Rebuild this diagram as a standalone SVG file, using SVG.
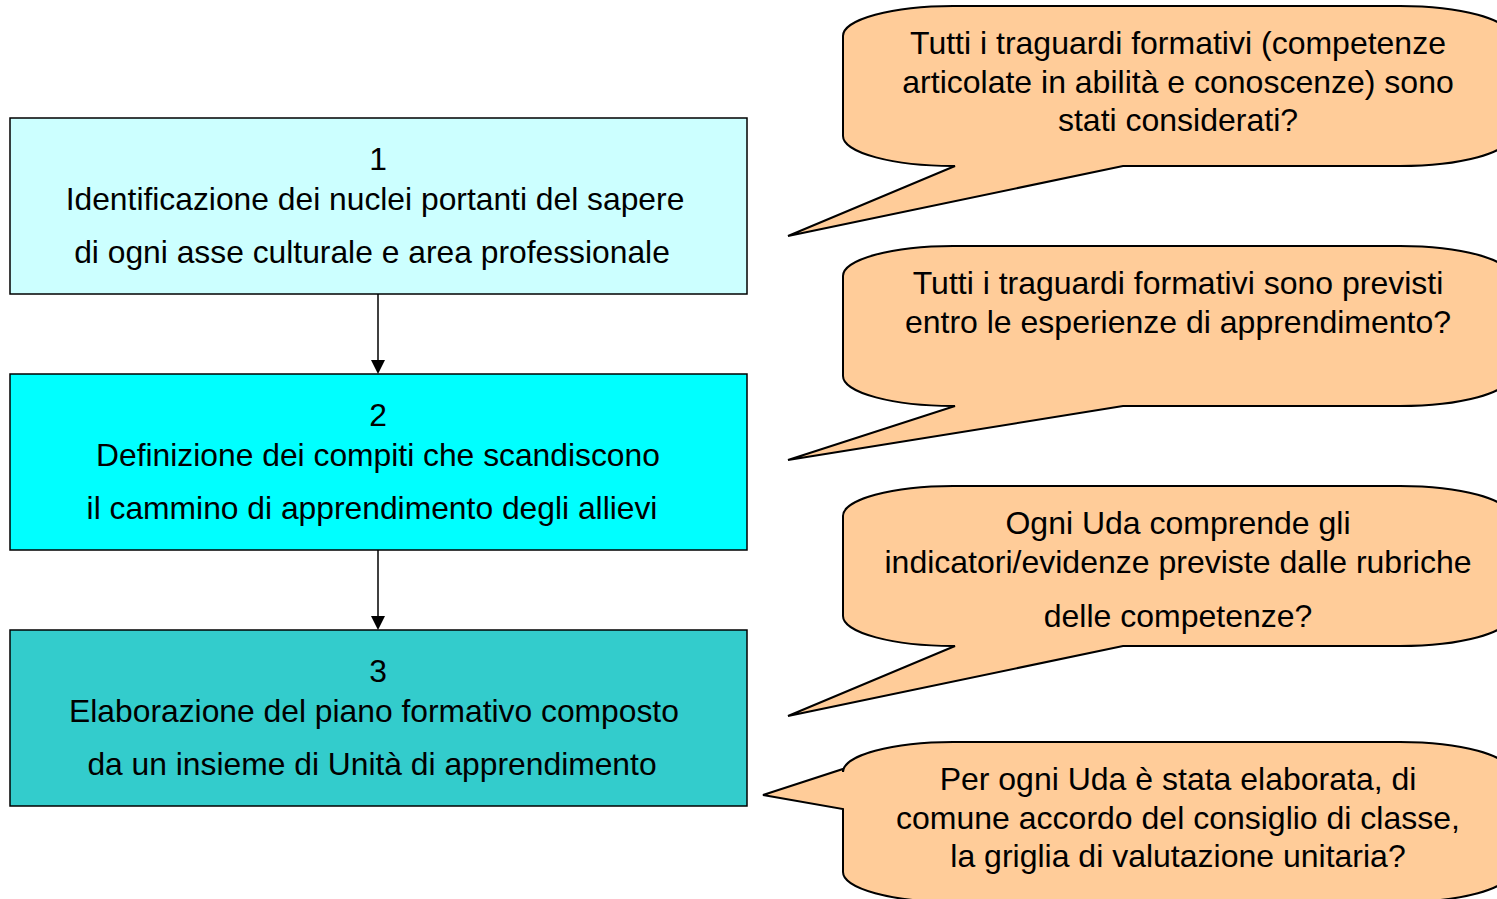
<svg xmlns="http://www.w3.org/2000/svg" width="1497" height="899" viewBox="0 0 1497 899">
<style>
text{font-family:"Liberation Sans",Arial,sans-serif;fill:#000}
.bt{font-size:31.8px;text-anchor:middle}
.ct{font-size:32px;text-anchor:middle}
.box{stroke:#000;stroke-width:1.5}
.call{fill:#FFCC99;stroke:#000;stroke-width:2;stroke-linejoin:miter}
.conn{stroke:#000;stroke-width:1.5;fill:none}
</style>
<rect width="1497" height="899" fill="#fff"/>
<g id="connectors">
<line class="conn" x1="378" y1="294" x2="378" y2="360"/>
<path d="M371,360 L385,360 L378,374 Z" fill="#000"/>
<line class="conn" x1="378" y1="550" x2="378" y2="616"/>
<path d="M371,616 L385,616 L378,630 Z" fill="#000"/>
</g>
<g id="node1">
<rect class="box" x="10" y="118" width="737" height="176" fill="#CCFFFF"/>
<text class="bt" x="378" y="170">1</text>
<text class="bt" x="375" y="210">Identificazione dei nuclei portanti del sapere</text>
<text class="bt" x="372" y="263">di ogni asse culturale e area professionale</text>
</g>
<g id="node2">
<rect class="box" x="10" y="374" width="737" height="176" fill="#00FFFF"/>
<text class="bt" x="378" y="426">2</text>
<text class="bt" x="378" y="466">Definizione dei compiti che scandiscono</text>
<text class="bt" x="372" y="519">il cammino di apprendimento degli allievi</text>
</g>
<g id="node3">
<rect class="box" x="10" y="630" width="737" height="176" fill="#33CCCC"/>
<text class="bt" x="378" y="682">3</text>
<text class="bt" x="374" y="722">Elaborazione del piano formativo composto</text>
<text class="bt" x="372" y="775">da un insieme di Unità di apprendimento</text>
</g>
<g id="callout1">
<path class="call" d="M843,36 A110,30 0 0 1 953,6 L1400,6 A110,30 0 0 1 1510,36 L1510,136 A110,30 0 0 1 1400,166 L1123,166 L788,236 L955,166 A110,30 0 0 1 843,136 Z"/>
<text class="ct" x="1178" y="54">Tutti i traguardi formativi (competenze</text>
<text class="ct" x="1178" y="93">articolate in abilità e conoscenze) sono</text>
<text class="ct" x="1178" y="131">stati considerati?</text>
</g>
<g id="callout2">
<path class="call" d="M843,276 A110,30 0 0 1 953,246 L1400,246 A110,30 0 0 1 1510,276 L1510,376 A110,30 0 0 1 1400,406 L1123,406 L788,460 L955,406 A110,30 0 0 1 843,376 Z"/>
<text class="ct" x="1178" y="294">Tutti i traguardi formativi sono previsti</text>
<text class="ct" x="1178" y="333">entro le esperienze di apprendimento?</text>
</g>
<g id="callout3">
<path class="call" d="M843,516 A110,30 0 0 1 953,486 L1400,486 A110,30 0 0 1 1510,516 L1510,616 A110,30 0 0 1 1400,646 L1123,646 L788,716 L955,646 A110,30 0 0 1 843,616 Z"/>
<text class="ct" x="1178" y="534">Ogni Uda comprende gli</text>
<text class="ct" x="1178" y="573">indicatori/evidenze previste dalle rubriche</text>
<text class="ct" x="1178" y="627">delle competenze?</text>
</g>
<g id="callout4">
<path class="call" d="M843,769 L843,772 A110,30 0 0 1 953,742 L1400,742 A110,30 0 0 1 1510,772 L1510,872 A110,30 0 0 1 1400,902 L953,902 A110,30 0 0 1 843,872 L843,809 L763,795 Z"/>
<text class="ct" x="1178" y="790">Per ogni Uda è stata elaborata, di</text>
<text class="ct" x="1178" y="829">comune accordo del consiglio di classe,</text>
<text class="ct" x="1178" y="867">la griglia di valutazione unitaria?</text>
</g>
</svg>
